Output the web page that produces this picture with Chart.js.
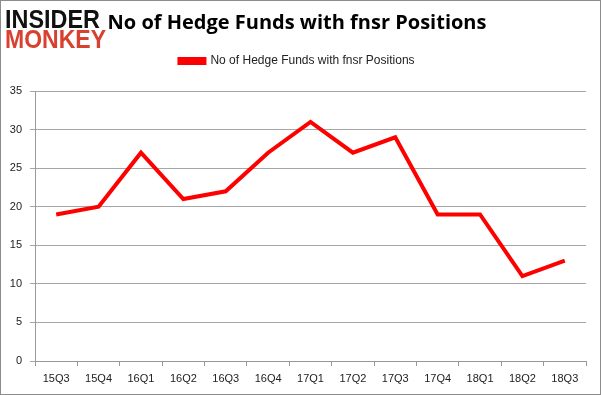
<!DOCTYPE html>
<html><head><meta charset="utf-8">
<script src="https://cdn.jsdelivr.net/npm/chart.js@4.4.0/dist/chart.umd.min.js"></script>
<style>html,body{margin:0;padding:0;background:#fff}#wrap{position:relative;width:601px;height:395px}</style>
</head><body><div id="wrap"><canvas id="c" width="601" height="395"></canvas></div>
<script>
const categories = ['15Q3','15Q4','16Q1','16Q2','16Q3','16Q4','17Q1','17Q2','17Q3','17Q4','18Q1','18Q2','18Q3'];
const hedgeFunds = [19,20,27,21,22,27,31,27,29,19,19,11,13];
const seriesName = 'No of Hedge Funds with fnsr Positions';
const chartTitle = 'No of Hedge Funds with fnsr Positions';
const yTicks = [0,5,10,15,20,25,30,35];

const frameAndLogo = {
  id:'frameAndLogo',
  beforeLayout(chart){
    const lg = chart.legend;
    if(lg && !lg._patched){
      const f = lg.fit.bind(lg);
      lg.fit = function(){ f(); this.height += 14; };
      lg._patched = true;
    }
  },
  afterDraw(chart){
    const ctx = chart.ctx;
    ctx.save();
    ctx.strokeStyle = '#8c8c8c'; ctx.lineWidth = 1;
    ctx.strokeRect(0.5,0.5,600,394);
    ctx.textBaseline = 'alphabetic';
    ctx.font = 'bold 26px "Liberation Sans", Arial, sans-serif';
    ctx.fillStyle = '#111';
    ctx.fillText('INSIDER', 5, 28, 95);
    ctx.fillStyle = '#d8412f';
    ctx.fillText('MONKEY', 5, 48, 101);
    ctx.restore();
  }
};

new Chart(document.getElementById('c'), {
  type:'line',
  data:{labels:categories, datasets:[{label:seriesName, data:hedgeFunds, borderColor:'#ff0000', backgroundColor:'#ff0000', borderWidth:4, pointRadius:0, tension:0, fill:false}]},
  options:{
    responsive:false, animation:false, devicePixelRatio:1,
    layout:{padding:{left:8,right:15,top:0,bottom:0}},
    plugins:{
      title:{display:true,text:chartTitle,color:'#000',font:{family:'"Open Sans", sans-serif',size:20,weight:'bold'},padding:{top:11,bottom:12}},
      legend:{display:true,labels:{color:'#222',font:{family:'"Liberation Sans", Arial, sans-serif',size:12},boxWidth:25,boxHeight:4,padding:8}},
      tooltip:{enabled:false}
    },
    scales:{
      x:{offset:true,
         grid:{offset:true,drawOnChartArea:false,drawTicks:true,tickLength:5,color:'#999'},
         border:{display:true,color:'#999'},
         ticks:{color:'#222',font:{family:'"Liberation Sans", Arial, sans-serif',size:11},maxRotation:0,padding:6},
         afterFit(s){s.height=34;}},
      y:{min:0,max:35,
         afterBuildTicks(s){s.ticks=yTicks.map(v=>({value:v}));},
         grid:{color:'#a6a6a6',drawTicks:true,tickLength:5},
         border:{display:true,color:'#999'},
         ticks:{color:'#222',font:{family:'"Liberation Sans", Arial, sans-serif',size:11},padding:8},
         afterFit(s){s.width=27;}}
    }
  },
  plugins:[frameAndLogo]
});
</script></body></html>
